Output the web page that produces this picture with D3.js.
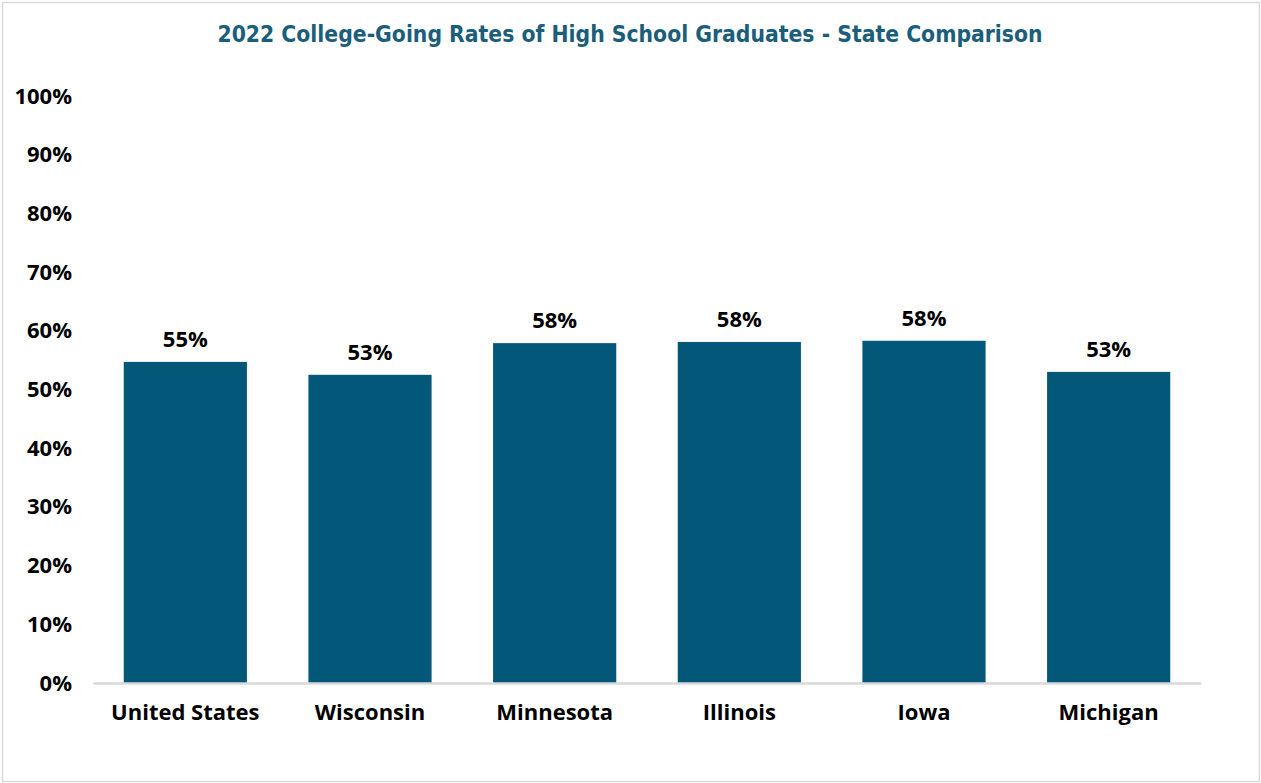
<!DOCTYPE html>
<html><head><meta charset="utf-8">
<script src="https://cdn.jsdelivr.net/npm/d3@7"></script>
<style>body{margin:0;background:#fff}</style>
</head><body>
<svg id="c" width="1261" height="783"></svg>
<script>
const categories = ["United States","Wisconsin","Minnesota","Illinois","Iowa","Michigan"];
const values = [0.547, 0.525, 0.579, 0.581, 0.583, 0.530];
const valueLabels = ["55%","53%","58%","58%","58%","53%"];
const yTicks = [0,0.1,0.2,0.3,0.4,0.5,0.6,0.7,0.8,0.9,1.0];
const title = "2022 College-Going Rates of High School Graduates - State Comparison";

const svg = d3.select("#c");
const W = 1261, H = 783;

svg.append("rect").attr("x",2.5).attr("y",2.5).attr("width",W-4).attr("height",H-4)
  .attr("fill","#fff").attr("stroke","#d9d9d9").attr("stroke-width",1.5);

svg.append("text").attr("x",630).attr("y",42).attr("text-anchor","middle")
  .attr("font-family","'DejaVu Sans Condensed','DejaVu Sans',sans-serif").attr("font-weight","bold")
  .attr("font-size",22.7).attr("fill","#1b5e7b").text(title);

const x = d3.scaleBand().domain(categories).range([93,1201]).paddingInner(0.333).paddingOuter(0.1665);
const y = d3.scaleLinear().domain([0,1]).range([683,96]);

const font = "'Open Sans', sans-serif";
const fs = 22;

const yAxis = svg.append("g").attr("transform","translate(93,0)")
  .call(d3.axisLeft(y).tickValues(yTicks).tickFormat(d3.format(".0%")).tickSize(0).tickPadding(22));
yAxis.select(".domain").remove();
yAxis.selectAll("text").attr("font-family",font).attr("font-weight","bold").attr("font-size",fs).attr("fill","#000")
  .attr("text-anchor","end").attr("x",-21);

svg.append("g").selectAll("rect").data(categories).join("rect")
  .attr("x",d=>x(d)).attr("width",x.bandwidth())
  .attr("y",(d,i)=>y(values[i])).attr("height",(d,i)=>y(0)-y(values[i]))
  .attr("fill","#03587a");

svg.append("g").selectAll("text").data(categories).join("text")
  .attr("x",d=>x(d)+x.bandwidth()/2).attr("y",(d,i)=>y(values[i])-15)
  .attr("text-anchor","middle").attr("font-family",font).attr("font-weight","bold")
  .attr("font-size",fs).attr("fill","#000").text((d,i)=>valueLabels[i]);

const xAxis = svg.append("g").attr("transform","translate(0,683)")
  .call(d3.axisBottom(x).tickSize(0).tickPadding(0));
xAxis.select(".domain").attr("stroke","#d9d9d9").attr("stroke-width",2.5);
xAxis.selectAll("text").attr("font-family",font).attr("font-weight","bold").attr("font-size",fs).attr("fill","#000")
  .attr("dy",null).attr("y",37);
</script>
</body></html>
